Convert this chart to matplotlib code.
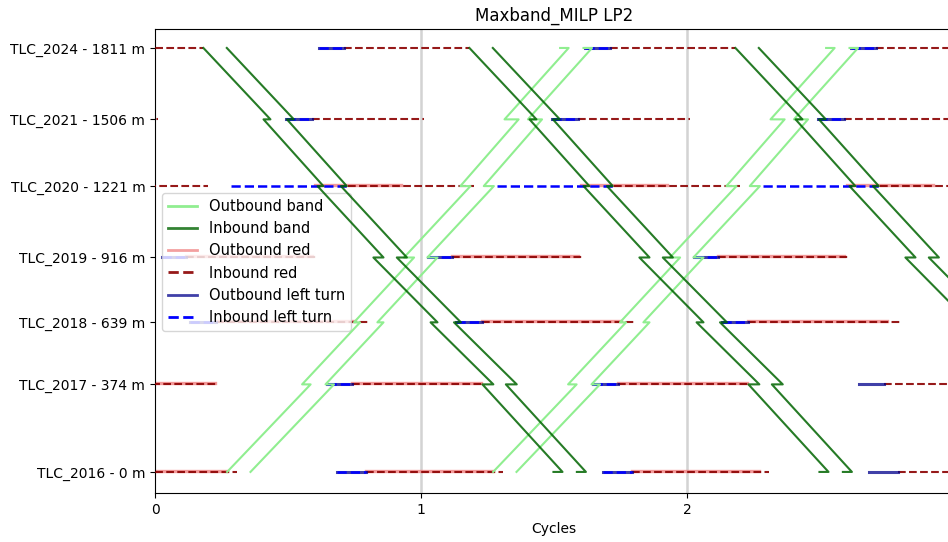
import numpy as np
import matplotlib
matplotlib.use('Agg')
import matplotlib.pyplot as plt
from matplotlib.lines import Line2D

# intersections, bottom to top
names = ['TLC_2016', 'TLC_2017', 'TLC_2018', 'TLC_2019', 'TLC_2020', 'TLC_2021', 'TLC_2024']
positions = [0, 374, 639, 916, 1221, 1506, 1811]

# band edge times (cycles), first cycle, lower edge; nan = no arrival/departure
ob_arr = [np.nan, 0.585, 0.771, 0.974, 1.186, 1.367, 1.555]
ob_dep = [0.271, 0.553, 0.748, 0.936, 1.148, 1.314, 1.523]
ib_arr = [1.532, 1.272, 1.062, 0.859, 0.633, 0.434, np.nan]
ib_dep = [1.498, 1.231, 1.036, 0.821, 0.611, 0.408, 0.182]
ob_width = 0.088
ib_width = 0.088
ob_cycles = [0, 1]
ib_cycles = [0, 1, 2]

# red / left turn intervals (start, end) in cycles; nan = none
ob_red_start = [0.795, 0.742, 0.231, 0.118, 0.600, np.nan, np.nan]
ob_red_end = [1.272, 1.226, 0.750, 0.590, 0.923, np.nan, np.nan]
ib_red_start = [0.795, 0.742, 0.231, 0.118, 0.724, 0.592, 0.709]
ib_red_end = [1.310, 1.235, 0.800, 0.607, 1.200, 1.011, 1.182]
ob_left_start = [0.686, 0.645, 0.130, 0.028, np.nan, 0.491, 0.615]
ob_left_end = [0.795, 0.742, 0.231, 0.118, np.nan, 0.592, 0.709]
ib_left_start = [0.686, 0.645, 0.130, 0.028, 0.284, 0.491, 0.615]
ib_left_end = [0.795, 0.742, 0.231, 0.118, 0.724, 0.592, 0.709]
repeat_cycles = [-1, 0, 1, 2]
late_cutoff = 2.63  # outbound red / inbound left not drawn after this

fig = plt.figure(figsize=(9.48, 5.42), dpi=100)
ax = fig.add_axes([155 / 948, 49 / 542, 798 / 948, 464 / 542])

for k in [1, 2]:
    ax.axvline(k, color='lightgray', lw=1.8, zorder=0)


def draw_intervals(starts, ends, cycles, cutoff=None, dy=0, **kw):
    for y, s, e in zip(positions, starts, ends):
        if np.isnan(s):
            continue
        for k in cycles:
            if cutoff is not None and s + k > cutoff:
                continue
            ax.plot([s + k, e + k], [y + dy, y + dy], **kw)


draw_intervals(ob_red_start, ob_red_end, repeat_cycles, late_cutoff, dy=6,
               color='lightcoral', alpha=0.8, lw=2.4, zorder=2)
draw_intervals(ib_red_start, ib_red_end, repeat_cycles,
               color='darkred', ls='--', lw=1.5, alpha=0.9, zorder=3)
draw_intervals(ob_left_start, ob_left_end, repeat_cycles,
               color='darkblue', alpha=0.75, lw=2.2, zorder=4)
draw_intervals(ib_left_start, ib_left_end, repeat_cycles, late_cutoff,
               color='blue', ls='--', lw=1.8, zorder=5)

# outbound band: bottom to top, notch at each arrival
ob_x, ob_y = [ob_dep[0]], [positions[0]]
for i in range(1, len(positions)):
    ob_x += [ob_arr[i], ob_dep[i]]
    ob_y += [positions[i], positions[i]]
ob_x = np.array(ob_x)

# inbound band: top to bottom
n = len(positions)
ib_x, ib_y = [ib_dep[n - 1]], [positions[n - 1]]
for i in range(n - 2, -1, -1):
    ib_x += [ib_arr[i], ib_dep[i]]
    ib_y += [positions[i], positions[i]]
ib_x = np.array(ib_x)

for k in ob_cycles:
    ax.plot(ob_x + k, ob_y, color='lightgreen', lw=1.5, zorder=6)
    ax.plot(ob_x + k + ob_width, ob_y, color='lightgreen', lw=1.5, zorder=6)
for k in ib_cycles:
    ax.plot(ib_x + k, ib_y, color='darkgreen', alpha=0.85, lw=1.5, zorder=7)
    ax.plot(ib_x + k + ib_width, ib_y, color='darkgreen', alpha=0.85, lw=1.5, zorder=7)

ax.set_xlim(0, 3)
ax.set_ylim(-90, 1892)
ax.set_xticks([0, 1, 2])
ax.set_yticks(positions)
ax.set_yticklabels([f'{nm} - {p} m' for nm, p in zip(names, positions)])
ax.set_xlabel('Cycles')
ax.set_title('Maxband_MILP LP2')

handles = [
    Line2D([], [], color='lightgreen', lw=2),
    Line2D([], [], color='darkgreen', alpha=0.8, lw=2),
    Line2D([], [], color='lightcoral', alpha=0.75, lw=2),
    Line2D([], [], color='darkred', ls='--', lw=2, alpha=0.9),
    Line2D([], [], color='darkblue', alpha=0.75, lw=2),
    Line2D([], [], color='blue', ls='--', lw=2),
]
labels = ['Outbound band', 'Inbound band', 'Outbound red', 'Inbound red',
          'Outbound left turn', 'Inbound left turn']
ax.legend(handles, labels, loc='upper left', bbox_to_anchor=(0.009, 0.647),
          borderaxespad=0, fontsize=10.5)

fig.savefig('out.png', dpi=100)
